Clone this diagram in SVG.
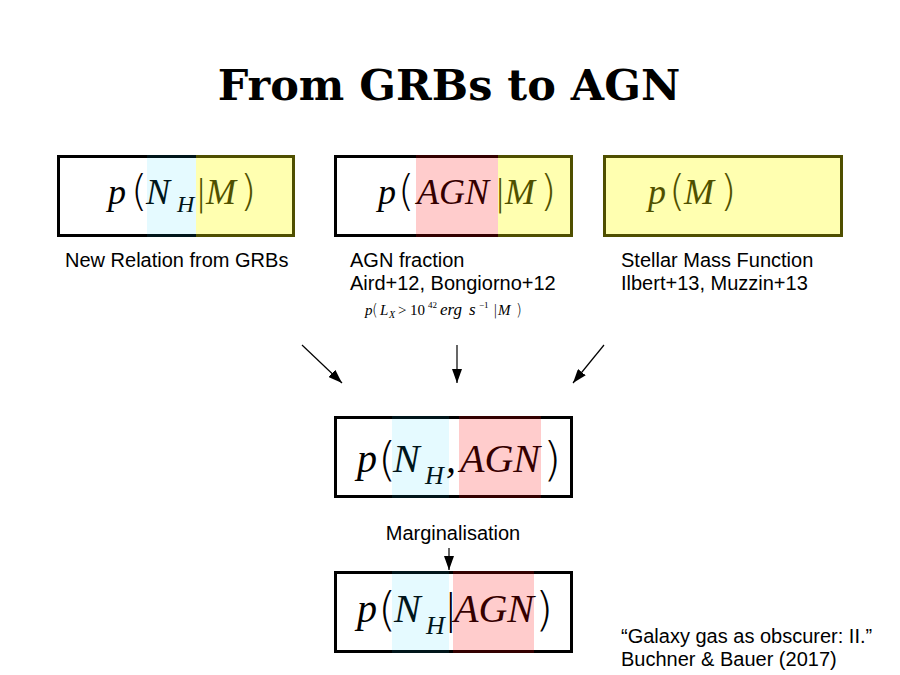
<svg xmlns="http://www.w3.org/2000/svg" width="900" height="675" viewBox="0 0 900 675">
<style>
.box{fill:none;stroke:#000;stroke-width:3}
.m{font-family:"Liberation Serif","DejaVu Serif",serif;font-style:italic;fill:#000}
.up{font-style:normal}
.par{font-family:"DejaVu Sans","Liberation Sans",sans-serif;font-weight:200;font-style:normal;fill:#000}
.lbl{font-family:"Liberation Sans",Arial,sans-serif;font-size:20px;fill:#000}
.cy{fill:#00ccff;fill-opacity:0.1}
.ye{fill:#ffff00;fill-opacity:0.31}
.pk{fill:#ff0000;fill-opacity:0.2}
.conn{stroke:#000;stroke-width:1.2;fill:none}
</style>
<defs>
<marker id="ahb" viewBox="0 0 14 10" refX="14" refY="5" markerWidth="14" markerHeight="10" markerUnits="userSpaceOnUse" orient="auto">
<path d="M0,0 L14,5 L0,10 z" fill="#000"/>
</marker>
</defs>
<rect width="900" height="675" fill="#fff"/>
<text x="449" y="100" text-anchor="middle" font-family="'DejaVu Serif','Liberation Serif',serif" font-weight="bold" font-size="43">From GRBs to AGN</text>

<g id="node-nh-given-m">
<rect class="box" x="58.5" y="156.5" width="235" height="79"/>
<text class="m" font-size="36"><tspan x="108" y="204">p</tspan><tspan class="par" x="131" y="206" font-size="42">(</tspan><tspan x="146" y="204">N</tspan><tspan x="177" y="212" font-size="24">H</tspan><tspan class="par" x="195" y="205" font-size="36">|</tspan><tspan x="206" y="204">M</tspan><tspan class="par" x="240" y="206" font-size="42">)</tspan></text>
<rect class="cy" x="147" y="155" width="49" height="82"/>
<rect class="ye" x="196" y="155" width="99" height="82"/>
</g>

<g id="node-agn-given-m">
<rect class="box" x="335.5" y="156.5" width="236" height="79"/>
<text class="m" font-size="36"><tspan x="378" y="204">p</tspan><tspan class="par" x="398" y="206" font-size="42">(</tspan><tspan x="417" y="204">AGN</tspan><tspan class="par" x="494" y="205" font-size="36">|</tspan><tspan x="505" y="204">M</tspan><tspan class="par" x="540" y="206" font-size="42">)</tspan></text>
<rect class="pk" x="416" y="155" width="82" height="82"/>
<rect class="ye" x="498" y="155" width="75" height="82"/>
</g>

<g id="node-m">
<rect class="box" x="604.5" y="156.5" width="237" height="79"/>
<text class="m" font-size="36"><tspan x="648" y="204">p</tspan><tspan class="par" x="669" y="206" font-size="42">(</tspan><tspan x="684" y="204">M</tspan><tspan class="par" x="720" y="206" font-size="42">)</tspan></text>
<rect class="ye" x="603" y="155" width="240" height="82"/>
</g>

<g id="label-grbs">
<text class="lbl" x="65" y="267">New Relation from GRBs</text>
</g>
<g id="label-agn">
<text class="lbl" x="350" y="267">AGN fraction</text>
<text class="lbl" x="350" y="290">Aird+12, Bongiorno+12</text>
<text class="m" font-size="15"><tspan x="365" y="315">p</tspan><tspan class="par" x="372" y="315" font-size="15">(</tspan><tspan x="380" y="315">L</tspan><tspan x="389" y="318" font-size="10">X</tspan><tspan class="up" x="398" y="315">&gt;</tspan><tspan class="up" x="410" y="315">10</tspan><tspan class="up" x="428" y="308" font-size="9">42</tspan><tspan x="440" y="315" font-size="17">erg</tspan><tspan x="469" y="315" font-size="17">s</tspan><tspan class="up" x="479" y="308" font-size="9">−1</tspan><tspan class="par" x="493" y="315" font-size="14">|</tspan><tspan x="498" y="315">M</tspan><tspan class="par" x="516" y="315" font-size="15">)</tspan></text>
</g>
<g id="label-smf">
<text class="lbl" x="621" y="267">Stellar Mass Function</text>
<text class="lbl" x="621" y="290">Ilbert+13, Muzzin+13</text>
</g>

<g id="node-joint">
<rect class="box" x="335.5" y="417.5" width="236" height="79"/>
<text class="m" font-size="40"><tspan x="357" y="472">p</tspan><tspan class="par" x="378" y="475" font-size="47">(</tspan><tspan x="393" y="472">N</tspan><tspan x="425" y="484" font-size="26">H</tspan><tspan x="446" y="472">,</tspan><tspan x="460" y="472">AGN</tspan><tspan class="par" x="543" y="475" font-size="47">)</tspan></text>
<rect class="cy" x="392" y="416" width="57" height="82"/>
<rect class="pk" x="459" y="416" width="82" height="82"/>
</g>

<g id="label-marg">
<text class="lbl" x="453" y="540" text-anchor="middle">Marginalisation</text>
</g>

<g id="node-nh-given-agn">
<rect class="box" x="335.5" y="572.5" width="236" height="79"/>
<text class="m" font-size="40"><tspan x="357" y="622">p</tspan><tspan class="par" x="378" y="625" font-size="47">(</tspan><tspan x="394" y="622">N</tspan><tspan x="426" y="634" font-size="26">H</tspan><tspan class="par" x="444" y="623" font-size="40">|</tspan><tspan x="454" y="622">AGN</tspan><tspan class="par" x="535" y="625" font-size="47">)</tspan></text>
<rect class="cy" x="392" y="571" width="57" height="82"/>
<rect class="pk" x="453" y="571" width="81" height="82"/>
</g>

<g id="citation">
<text class="lbl" x="621" y="643">“Galaxy gas as obscurer: II.”</text>
<text class="lbl" x="621" y="666">Buchner &amp; Bauer (2017)</text>
</g>

<g id="connectors">
<line class="conn" x1="302" y1="345" x2="342" y2="383" marker-end="url(#ahb)"/>
<line class="conn" x1="457" y1="345" x2="457" y2="383" marker-end="url(#ahb)"/>
<line class="conn" x1="604" y1="345" x2="573" y2="383" marker-end="url(#ahb)"/>
<line class="conn" x1="449" y1="548" x2="449" y2="570" marker-end="url(#ahb)"/>
</g>
</svg>
